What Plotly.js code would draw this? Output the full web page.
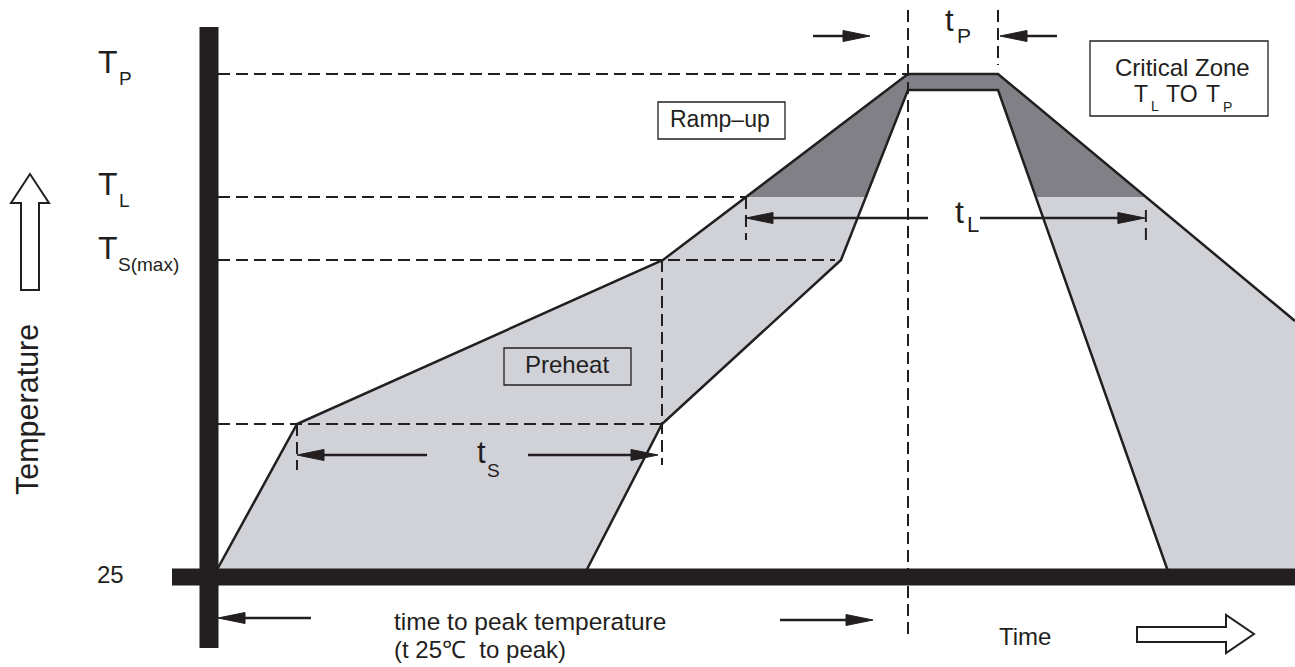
<!DOCTYPE html>
<html><head><meta charset="utf-8">
<script src="https://cdn.plot.ly/plotly-3.0.1.min.js"></script>
<style>html,body{margin:0;padding:0;background:#fff}#chart{width:1295px;height:667px}</style>
</head><body><div id="chart"></div>
<script>
// ---- schematic reflow profile data (time axis origin at the temperature axis; ambient = 25) ----
const T_AMB = 25, T_SMIN = 178, T_SMAX = 342, T_LIQ = 405, T_PEAK = 528, T_PEAK_LOW = 512;
// fast (upper / left) profile
const fastTime = [4, 88, 454, 699, 789, 1086];
const fastTemp = [T_AMB, T_SMIN, T_SMAX, T_PEAK, T_PEAK, 281];
// slow (lower / right) profile
const slowTime = [374, 453, 632, 699, 789, 961];
const slowTemp = [T_AMB, T_SMIN, T_SMAX, T_PEAK_LOW, T_PEAK_LOW, T_AMB];
const tsWindow = [88, 453];      // preheat window t_S
const tpWindow = [699, 789];     // time within peak t_P
const timeEnd = 1086;

const INK = '#231f20', LIGHT = '#d1d1d8', DARK = '#808086';
const FONT = 'Liberation Sans, Arial, Helvetica, sans-serif';

function crossX(xs, ys, level) {
  const out = [];
  for (let i = 0; i < xs.length - 1; i++) {
    const y0 = ys[i], y1 = ys[i + 1];
    if ((y0 - level) * (y1 - level) < 0) out.push(xs[i] + (level - y0) / (y1 - y0) * (xs[i + 1] - xs[i]));
  }
  return out;
}
function above(xs, ys, level) {
  const px = [], py = [];
  for (let i = 0; i < xs.length; i++) {
    if (i > 0) {
      const y0 = ys[i - 1], y1 = ys[i];
      if ((y0 - level) * (y1 - level) < 0) { px.push(xs[i - 1] + (level - y0) / (y1 - y0) * (xs[i] - xs[i - 1])); py.push(level); }
    }
    if (ys[i] >= level) { px.push(xs[i]); py.push(ys[i]); }
  }
  return [px, py];
}

const fastTL = crossX(fastTime, fastTemp, T_LIQ);   // [left, right]
const tlWindow = [fastTL[0], fastTL[1]];

// band polygon
const bandX = fastTime.concat([timeEnd]).concat(slowTime.slice().reverse());
const bandY = fastTemp.concat([T_AMB]).concat(slowTemp.slice().reverse());
// critical zone polygon (above T_L)
const fa = above(fastTime, fastTemp, T_LIQ), sa = above(slowTime, slowTemp, T_LIQ);
const darkX = fa[0].concat(sa[0].slice().reverse());
const darkY = fa[1].concat(sa[1].slice().reverse());

const traces = [
  {x: bandX, y: bandY, mode: 'lines', fill: 'toself', fillcolor: LIGHT, line: {width: 0}, hoverinfo: 'skip'},
  {x: darkX, y: darkY, mode: 'lines', fill: 'toself', fillcolor: DARK, line: {width: 0}, hoverinfo: 'skip'},
  {x: fastTime, y: fastTemp, mode: 'lines', line: {color: INK, width: 2.5}, hoverinfo: 'skip'},
  {x: slowTime, y: slowTemp, mode: 'lines', line: {color: INK, width: 2.5}, hoverinfo: 'skip'}
];

const DASH = '12px,6px';
function dline(x0, y0, x1, y1) {
  return {type: 'line', xref: 'x', yref: 'y', x0, y0, x1, y1, line: {color: INK, width: 2, dash: DASH}};
}
function sline(x0, y0, x1, y1, w) {
  return {type: 'line', xref: 'x', yref: 'y', x0, y0, x1, y1, line: {color: INK, width: w}};
}
function arrow(tail, tip, y) {
  const d = tip > tail ? 1 : -1, L = 27, H = 5.5;
  return [
    sline(tail, y, tip - d * L * 0.5, y, 2.5),
    {type: 'path', xref: 'x', yref: 'y', path: `M${tip},${y} L${tip - d * L},${y + H} L${tip - d * L},${y - H} Z`,
     fillcolor: INK, line: {color: INK, width: 1}}
  ];
}
function box(x0, y0, x1, y1) {
  return {type: 'rect', xref: 'x', yref: 'y', x0, y0, x1, y1, line: {color: INK, width: 1.3}, fillcolor: 'rgba(0,0,0,0)'};
}

const shapes = [
  // reference levels
  dline(9, T_PEAK, tpWindow[0], T_PEAK),
  dline(9, T_LIQ, tlWindow[0], T_LIQ),
  dline(9, T_SMAX, 626, T_SMAX),
  dline(9, T_SMIN, tsWindow[1], T_SMIN),
  // window markers
  dline(tpWindow[0], 592, tpWindow[0], -33),
  dline(tpWindow[1], 592, tpWindow[1], 537),
  dline(tsWindow[1], T_SMAX, tsWindow[1], 137),
  dline(tsWindow[0], T_SMIN, tsWindow[0], 132),
  dline(tlWindow[0], T_LIQ, tlWindow[0], 362),
  dline(tlWindow[1], 392, tlWindow[1], 362),
  // thick axes
  sline(0, 575, 0, -46, 19),
  sline(-37, T_AMB, timeEnd, T_AMB, 17),
  // boxes
  box(449, 500, 576, 463),
  box(295, 254, 422, 217),
  box(881, 561, 1059, 486),
  // hollow direction arrows
  {type: 'path', xref: 'x', yref: 'y', path: 'M-188,312 L-188,399 L-198,399 L-179,428 L-160,399 L-170,399 L-170,312 Z',
   fillcolor: '#ffffff', line: {color: INK, width: 2}},
  {type: 'path', xref: 'x', yref: 'y', path: 'M928,-25 L1017,-25 L1017,-13 L1045,-32 L1017,-51 L1017,-40 L928,-40 Z',
   fillcolor: '#ffffff', line: {color: INK, width: 2}}
].concat(
  arrow(218, tsWindow[0], 147), arrow(319, tsWindow[1] - 4, 147),
  arrow(719, tlWindow[0], 384), arrow(771, tlWindow[1] - 1, 384),
  arrow(604, tpWindow[0] - 38, 566), arrow(848, tpWindow[1] + 2, 566),
  arrow(102, 9, -16), arrow(571, 664, -18)
);

function txt(x, y, text, size, xa, extra) {
  return Object.assign({x, y, xref: 'x', yref: 'y', text, showarrow: false, xanchor: xa || 'left', yanchor: 'middle',
    borderpad: 0, font: {family: FONT, size, color: INK}}, extra || {});
}
const annotations = [
  txt(-112, 540.5, 'T', 32), txt(-91, 524, 'P', 19),
  txt(-112, 418, 'T', 32), txt(-91, 402, 'L', 19),
  txt(-112, 354, 'T', 32), txt(-92, 338, 'S(max)', 19),
  txt(-98.5, 28, '25', 24, 'center'),
  txt(-182, 192, 'Temperature', 30.5, 'center', {textangle: -90}),
  txt(511, 483.5, 'Ramp–up', 23, 'center'),
  txt(358, 237.5, 'Preheat', 24, 'center'),
  txt(973, 534.5, 'Critical Zone', 24, 'center'),
  txt(924, 508.5, 'T', 23), txt(941, 496, 'L', 14), txt(956, 508.5, 'TO', 23),
  txt(996, 508.5, 'T', 23), txt(1013, 495, 'P', 14),
  txt(267, 150, 't', 31), txt(277, 132, 'S', 19),
  txt(745, 390, 't', 32), txt(757, 378, 'L', 22),
  txt(735, 582, 't', 31), txt(747, 566.5, 'P', 21),
  txt(184, -19.5, 'time to peak temperature', 24.5),
  txt(184, -47, '(t 25℃\u00a0 to peak)', 24),
  txt(816, -34, 'Time', 24, 'center')
];

const layout = {
  width: 1295, height: 667, margin: {l: 0, r: 0, t: 0, b: 0, pad: 0},
  paper_bgcolor: '#ffffff', plot_bgcolor: '#ffffff', showlegend: false,
  xaxis: {range: [-209, 1086], visible: false, fixedrange: true},
  yaxis: {range: [-65, 602], visible: false, fixedrange: true},
  shapes, annotations
};
Plotly.newPlot('chart', traces, layout, {staticPlot: true, displayModeBar: false});
</script></body></html>
